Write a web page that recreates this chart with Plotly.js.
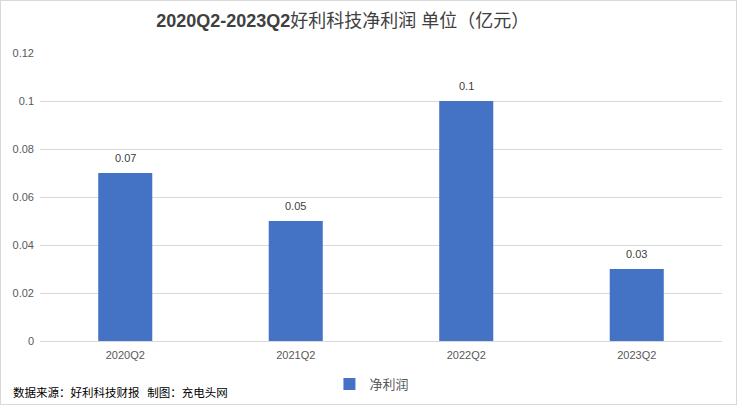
<!DOCTYPE html>
<html>
<head>
<meta charset="utf-8">
<script src="https://cdn.plot.ly/plotly-3.0.1.min.js"></script>
<style>
html,body{margin:0;padding:0;background:#fff;}
#wrap{position:relative;width:737px;height:405px;}
#chart{width:737px;height:405px;}
#border{position:absolute;left:0;top:0;width:737px;height:405px;box-sizing:border-box;border:1px solid #d9d9d9;pointer-events:none;}
</style>
</head>
<body>
<div id="wrap"><div id="chart"></div><div id="border"></div></div>
<script>
var categories = ["2020Q2", "2021Q2", "2022Q2", "2023Q2"];
var netProfit = [0.07, 0.05, 0.1, 0.03];
var seriesName = "净利润";
var titleBold = "2020Q2-2023Q2";
var titleRest = "好利科技净利润 单位（亿元）";
var sourceText = "数据来源：好利科技财报&nbsp;&nbsp;&nbsp;制图：充电头网";

var fontFam = "Liberation Sans, Noto Sans CJK SC, sans-serif";

var trace = {
  type: "bar",
  x: categories,
  y: netProfit,
  name: seriesName,
  marker: {color: "#4472C4"},
  hoverinfo: "none"
};

var labelAnns = categories.map(function (c, i) {
  return {
    x: c, y: netProfit[i], xref: "x", yref: "y",
    text: String(netProfit[i]),
    showarrow: false,
    yanchor: "bottom",
    yshift: 7,
    font: {family: fontFam, size: 11, color: "#404040"}
  };
});

var layout = {
  width: 737,
  height: 405,
  margin: {l: 40, r: 15, t: 53, b: 64, autoexpand: false},
  paper_bgcolor: "#fff",
  plot_bgcolor: "#fff",
  bargap: 0.683,
  showlegend: true,
  title: {
    text: "<b>" + titleBold + "</b>" + titleRest,
    x: 0.465, xref: "container", xanchor: "center",
    y: 0.948, yref: "container", yanchor: "middle",
    font: {family: fontFam, size: 18, color: "#404040"}
  },
  xaxis: {
    type: "category",
    showgrid: false,
    showline: false,
    zeroline: false,
    ticks: "",
    ticklabelstandoff: 6,
    tickfont: {family: fontFam, size: 11, color: "#595959"},
    fixedrange: true
  },
  yaxis: {
    range: [0, 0.12],
    dtick: 0.02,
    tick0: 0,
    showgrid: true,
    gridcolor: "#d9d9d9",
    gridwidth: 1,
    zeroline: true,
    zerolinecolor: "#d9d9d9",
    zerolinewidth: 1,
    showline: false,
    ticks: "",
    ticklabelstandoff: 5,
    tickformat: "~g",
    tickfont: {family: fontFam, size: 11, color: "#595959"},
    fixedrange: true
  },
  legend: {
    orientation: "h",
    xref: "container", yref: "container",
    x: 0.447, xanchor: "left",
    y: 0.052, yanchor: "middle",
    font: {family: "Noto Sans CJK SC, sans-serif", size: 13, color: "#595959"},
    itemwidth: 30
  },
  annotations: labelAnns.concat([{
    text: sourceText,
    xref: "paper", yref: "paper",
    x: -0.043, xanchor: "left",
    y: -0.177, yanchor: "middle",
    showarrow: false,
    font: {family: "Noto Sans CJK SC, sans-serif", size: 11.5, color: "#000"}
  }])
};

Plotly.newPlot("chart", [trace], layout, {displayModeBar: false, staticPlot: true});
</script>
</body>
</html>
